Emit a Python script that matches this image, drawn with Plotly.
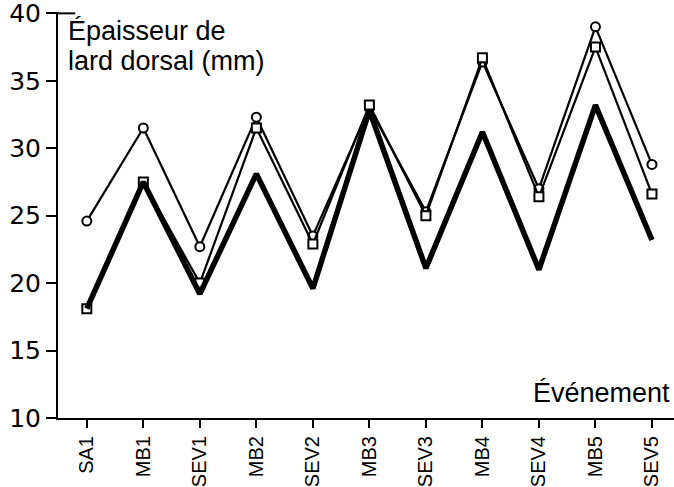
import plotly.graph_objects as go

categories = ["SA1", "MB1", "SEV1", "MB2", "SEV2", "MB3", "SEV3", "MB4", "SEV4", "MB5", "SEV5"]
circles = [24.6, 31.5, 22.7, 32.3, 23.5, 33.0, 25.3, 36.4, 27.0, 39.0, 28.8]
squares = [18.1, 27.5, 20.0, 31.5, 22.9, 33.2, 25.0, 36.7, 26.4, 37.5, 26.6]
thick = [18.1, 27.5, 19.2, 28.1, 19.6, 32.8, 21.1, 31.2, 21.0, 33.2, 23.2]
yticks = [10, 15, 20, 25, 30, 35, 40]

NUMFONT = "DejaVu Sans, Liberation Sans, Arial, sans-serif"
TXTFONT = "Liberation Sans, Arial, Helvetica, sans-serif"

fig = go.Figure()
fig.add_trace(go.Scatter(
    x=categories, y=circles, mode="lines+markers",
    line=dict(color="black", width=2.2),
    marker=dict(symbol="circle", size=9, color="white", line=dict(color="black", width=2)),
))
fig.add_trace(go.Scatter(
    x=categories, y=squares, mode="lines+markers",
    line=dict(color="black", width=2.2),
    marker=dict(symbol="square", size=9, color="white", line=dict(color="black", width=2)),
))
fig.add_trace(go.Scatter(
    x=categories, y=thick, mode="lines",
    line=dict(color="black", width=5.5),
))

fig.update_layout(
    width=674, height=487,
    margin=dict(l=58, r=0, t=12, b=69),
    paper_bgcolor="white", plot_bgcolor="white",
    showlegend=False,
    font=dict(family=TXTFONT, color="black"),
    xaxis=dict(
        type="category", categoryorder="array", categoryarray=categories,
        range=[-0.51, 10.39],
        showgrid=False, zeroline=False,
        showline=True, linecolor="black", linewidth=2,
        ticks="outside", ticklen=8, tickwidth=2, tickcolor="black",
        tickangle=-90, tickfont=dict(size=20, family=TXTFONT),
        ticklabeloverflow="allow",
    ),
    yaxis=dict(
        range=[10, 40.1], tickvals=yticks,
        showgrid=False, zeroline=False,
        showline=True, linecolor="black", linewidth=2,
        ticks="outside", ticklen=10, tickwidth=2, tickcolor="black",
        tickfont=dict(size=25, family=NUMFONT),
        ticklabeloverflow="allow",
    ),
    shapes=[
        dict(type="line", xref="paper", yref="y", x0=0, x1=0.028, y0=40, y1=40,
             line=dict(color="black", width=2)),
    ],
    annotations=[
        dict(text="Épaisseur de", xref="paper", yref="paper",
             x=8/616, y=0.995, xanchor="left", yanchor="top", align="left",
             showarrow=False, font=dict(size=27, family=TXTFONT)),
        dict(text="lard dorsal (mm)", xref="paper", yref="paper",
             x=8/616, y=0.921, xanchor="left", yanchor="top", align="left",
             showarrow=False, font=dict(size=27, family=TXTFONT)),
        dict(text="Événement", xref="paper", yref="paper",
             x=0.997, y=0.02, xanchor="right", yanchor="bottom", align="right",
             showarrow=False, font=dict(size=27, family=TXTFONT)),
    ],
)

fig.write_html("out.html", config={"displayModeBar": False},
               post_script="document.body.style.margin='0';document.body.style.overflow='hidden';")
